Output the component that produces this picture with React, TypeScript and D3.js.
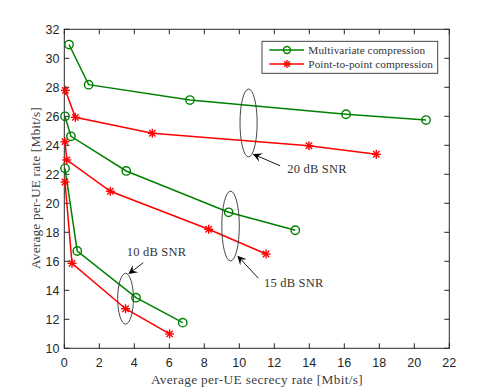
import React from "react";
import * as d3 from "d3";

const xTicks = [0, 2, 4, 6, 8, 10, 12, 14, 16, 18, 20, 22];
const yTicks = [10, 12, 14, 16, 18, 20, 22, 24, 26, 28, 30, 32];

// Multivariate compression (green, circles)
const mv20x = [0.27, 1.39, 7.18, 16.1, 20.67];
const mv20y = [30.95, 28.18, 27.12, 26.14, 25.74];
const mv15x = [0.04, 0.38, 3.54, 9.39, 13.2];
const mv15y = [26.0, 24.62, 22.23, 19.38, 18.14];
const mv10x = [0.04, 0.74, 4.1, 6.77];
const mv10y = [22.41, 16.71, 13.49, 11.77];

// Point-to-point compression (red, stars)
const pp20x = [0.06, 0.63, 5.03, 13.98, 17.83];
const pp20y = [27.79, 25.93, 24.83, 23.97, 23.38];
const pp15x = [0.04, 0.14, 2.63, 8.25, 11.53];
const pp15y = [24.25, 22.99, 20.83, 18.21, 16.5];
const pp10x = [0.04, 0.44, 3.5, 6.02];
const pp10y = [21.47, 15.86, 12.73, 10.99];

const seriesNames = ["Multivariate compression", "Point-to-point compression"];

// annotations (data coordinates)
const noteLabels = ["20 dB SNR", "15 dB SNR", "10 dB SNR"];
const ellCx = [10.53, 9.5, 3.5];
const ellCy = [25.54, 18.43, 13.42];
const ellRx = [0.49, 0.5, 0.45];
const ellRy = [2.34, 2.41, 1.75];
const arrTailX = [12.33, 11.09, 4.51];
const arrTailY = [22.59, 14.83, 15.9];
const arrTipX = [10.77, 9.89, 3.66];
const arrTipY = [23.4, 16.39, 15.12];
const textX = [12.74, 11.41, 3.57];
const textY = [22.11, 14.25, 16.37];

const W = 496;
const H = 392;
const L = 64.3, R = 449.3, T = 29.3, B = 348.3;
const GREEN = "#008000";
const RED = "#ff0000";
const AX = "#262626";
const SERIF = "'Liberation Serif', 'DejaVu Serif', serif";
const SANS = "'Liberation Sans', Arial, sans-serif";

function zip(xs: number[], ys: number[]): [number, number][] {
  return xs.map((x, i) => [x, ys[i]]);
}

function Star({ x, y, s = 4.5, color }: { x: number; y: number; s?: number; color: string }) {
  const d = s * 0.7071;
  return (
    <g stroke={color} strokeWidth={1.4}>
      <line x1={x - s} y1={y} x2={x + s} y2={y} />
      <line x1={x} y1={y - s} x2={x} y2={y + s} />
      <line x1={x - d} y1={y - d} x2={x + d} y2={y + d} />
      <line x1={x - d} y1={y + d} x2={x + d} y2={y - d} />
    </g>
  );
}

export default function App() {
  const x = d3.scaleLinear().domain([0, 22]).range([L, R]);
  const y = d3.scaleLinear().domain([10, 32]).range([B, T]);
  const line = d3.line<[number, number]>().x((d) => x(d[0])).y((d) => y(d[1]));

  const green = [zip(mv20x, mv20y), zip(mv15x, mv15y), zip(mv10x, mv10y)];
  const red = [zip(pp20x, pp20y), zip(pp15x, pp15y), zip(pp10x, pp10y)];

  const tl = 5;

  const arrow = (i: number) => {
    const x1 = x(arrTailX[i]), y1 = y(arrTailY[i]);
    const x2 = x(arrTipX[i]), y2 = y(arrTipY[i]);
    const ang = Math.atan2(y2 - y1, x2 - x1);
    const hl = 9, hw = 4.5;
    const bx = x2 - hl * Math.cos(ang), by = y2 - hl * Math.sin(ang);
    const nx = -Math.sin(ang), ny = Math.cos(ang);
    const ix = x2 - hl * 0.6 * Math.cos(ang), iy = y2 - hl * 0.6 * Math.sin(ang);
    const pts = [
      [x2, y2],
      [bx + nx * hw, by + ny * hw],
      [ix, iy],
      [bx - nx * hw, by - ny * hw],
    ];
    return (
      <g key={"a" + i}>
        <line x1={x1} y1={y1} x2={ix} y2={iy} stroke="#000" strokeWidth={0.9} />
        <polygon points={pts.map((p) => p.join(",")).join(" ")} fill="#000" />
      </g>
    );
  };

  const legX = 262, legY = 41.3, legW = 175.7, legH = 32;

  return (
    <svg width={W} height={H} style={{ position: "absolute", left: 0, top: 0, background: "#fff" }}>
      <rect x={0} y={0} width={W} height={H} fill="#fff" />
      {/* axis box */}
      <rect x={L} y={T} width={R - L} height={B - T} fill="none" stroke={AX} strokeWidth={1} />
      {xTicks.map((t) => (
        <g key={"xt" + t}>
          <line x1={x(t)} x2={x(t)} y1={B} y2={B - tl} stroke={AX} />
          <line x1={x(t)} x2={x(t)} y1={T} y2={T + tl} stroke={AX} />
          <text x={x(t)} y={367} textAnchor="middle" fontFamily={SANS} fontSize={12.5} fill={AX}>
            {t}
          </text>
        </g>
      ))}
      {yTicks.map((t) => (
        <g key={"yt" + t}>
          <line x1={L} x2={L + tl} y1={y(t)} y2={y(t)} stroke={AX} />
          <line x1={R} x2={R - tl} y1={y(t)} y2={y(t)} stroke={AX} />
          <text x={59.5} y={y(t) + 4.3} textAnchor="end" fontFamily={SANS} fontSize={12.5} fill={AX}>
            {t}
          </text>
        </g>
      ))}
      <text x={257} y={384} textAnchor="middle" fontFamily={SERIF} fontSize={13.3} letterSpacing={0.35} fill="#404040">
        Average per-UE secrecy rate [Mbit/s]
      </text>
      <text
        transform={`translate(39.5,188) rotate(-90)`}
        textAnchor="middle"
        fontFamily={SERIF}
        fontSize={13.3}
        letterSpacing={0.2}
        fill="#404040"
      >
        Average per-UE rate [Mbit/s]
      </text>

      {/* series */}
      {green.map((s, i) => (
        <g key={"g" + i}>
          <path d={line(s) || ""} fill="none" stroke={GREEN} strokeWidth={1.5} />
          {s.map((p, j) => (
            <circle key={j} cx={x(p[0])} cy={y(p[1])} r={4.2} fill="none" stroke={GREEN} strokeWidth={1.4} />
          ))}
        </g>
      ))}
      {red.map((s, i) => (
        <g key={"r" + i}>
          <path d={line(s) || ""} fill="none" stroke={RED} strokeWidth={1.5} />
          {s.map((p, j) => (
            <Star key={j} x={x(p[0])} y={y(p[1])} color={RED} />
          ))}
        </g>
      ))}

      {/* annotations */}
      {noteLabels.map((lab, i) => (
        <g key={"n" + i}>
          <ellipse
            cx={x(ellCx[i])}
            cy={y(ellCy[i])}
            rx={x(ellRx[i]) - x(0)}
            ry={y(0) - y(ellRy[i])}
            fill="none"
            stroke="#333"
            strokeWidth={0.9}
          />
          {arrow(i)}
          <text x={x(textX[i])} y={y(textY[i])} fontFamily={SERIF} fontSize={12.5} letterSpacing={0.2} fill="#333">
            {lab}
          </text>
        </g>
      ))}

      {/* legend */}
      <rect x={legX} y={legY} width={legW} height={legH} fill="#fff" stroke="#333" strokeWidth={0.9} />
      {seriesNames.map((n, i) => {
        const ly = 50 + i * 14;
        const c = i === 0 ? GREEN : RED;
        return (
          <g key={"l" + i}>
            <line x1={269.3} x2={304} y1={ly} y2={ly} stroke={c} strokeWidth={1.5} />
            {i === 0 ? (
              <circle cx={287} cy={ly} r={3.5} fill="none" stroke={c} strokeWidth={1.4} />
            ) : (
              <Star x={287} y={ly} s={4} color={c} />
            )}
            <text x={308.3} y={ly + 3.8} fontFamily={SERIF} fontSize={11.3} letterSpacing={0.05} fill="#333">
              {n}
            </text>
          </g>
        );
      })}
    </svg>
  );
}
